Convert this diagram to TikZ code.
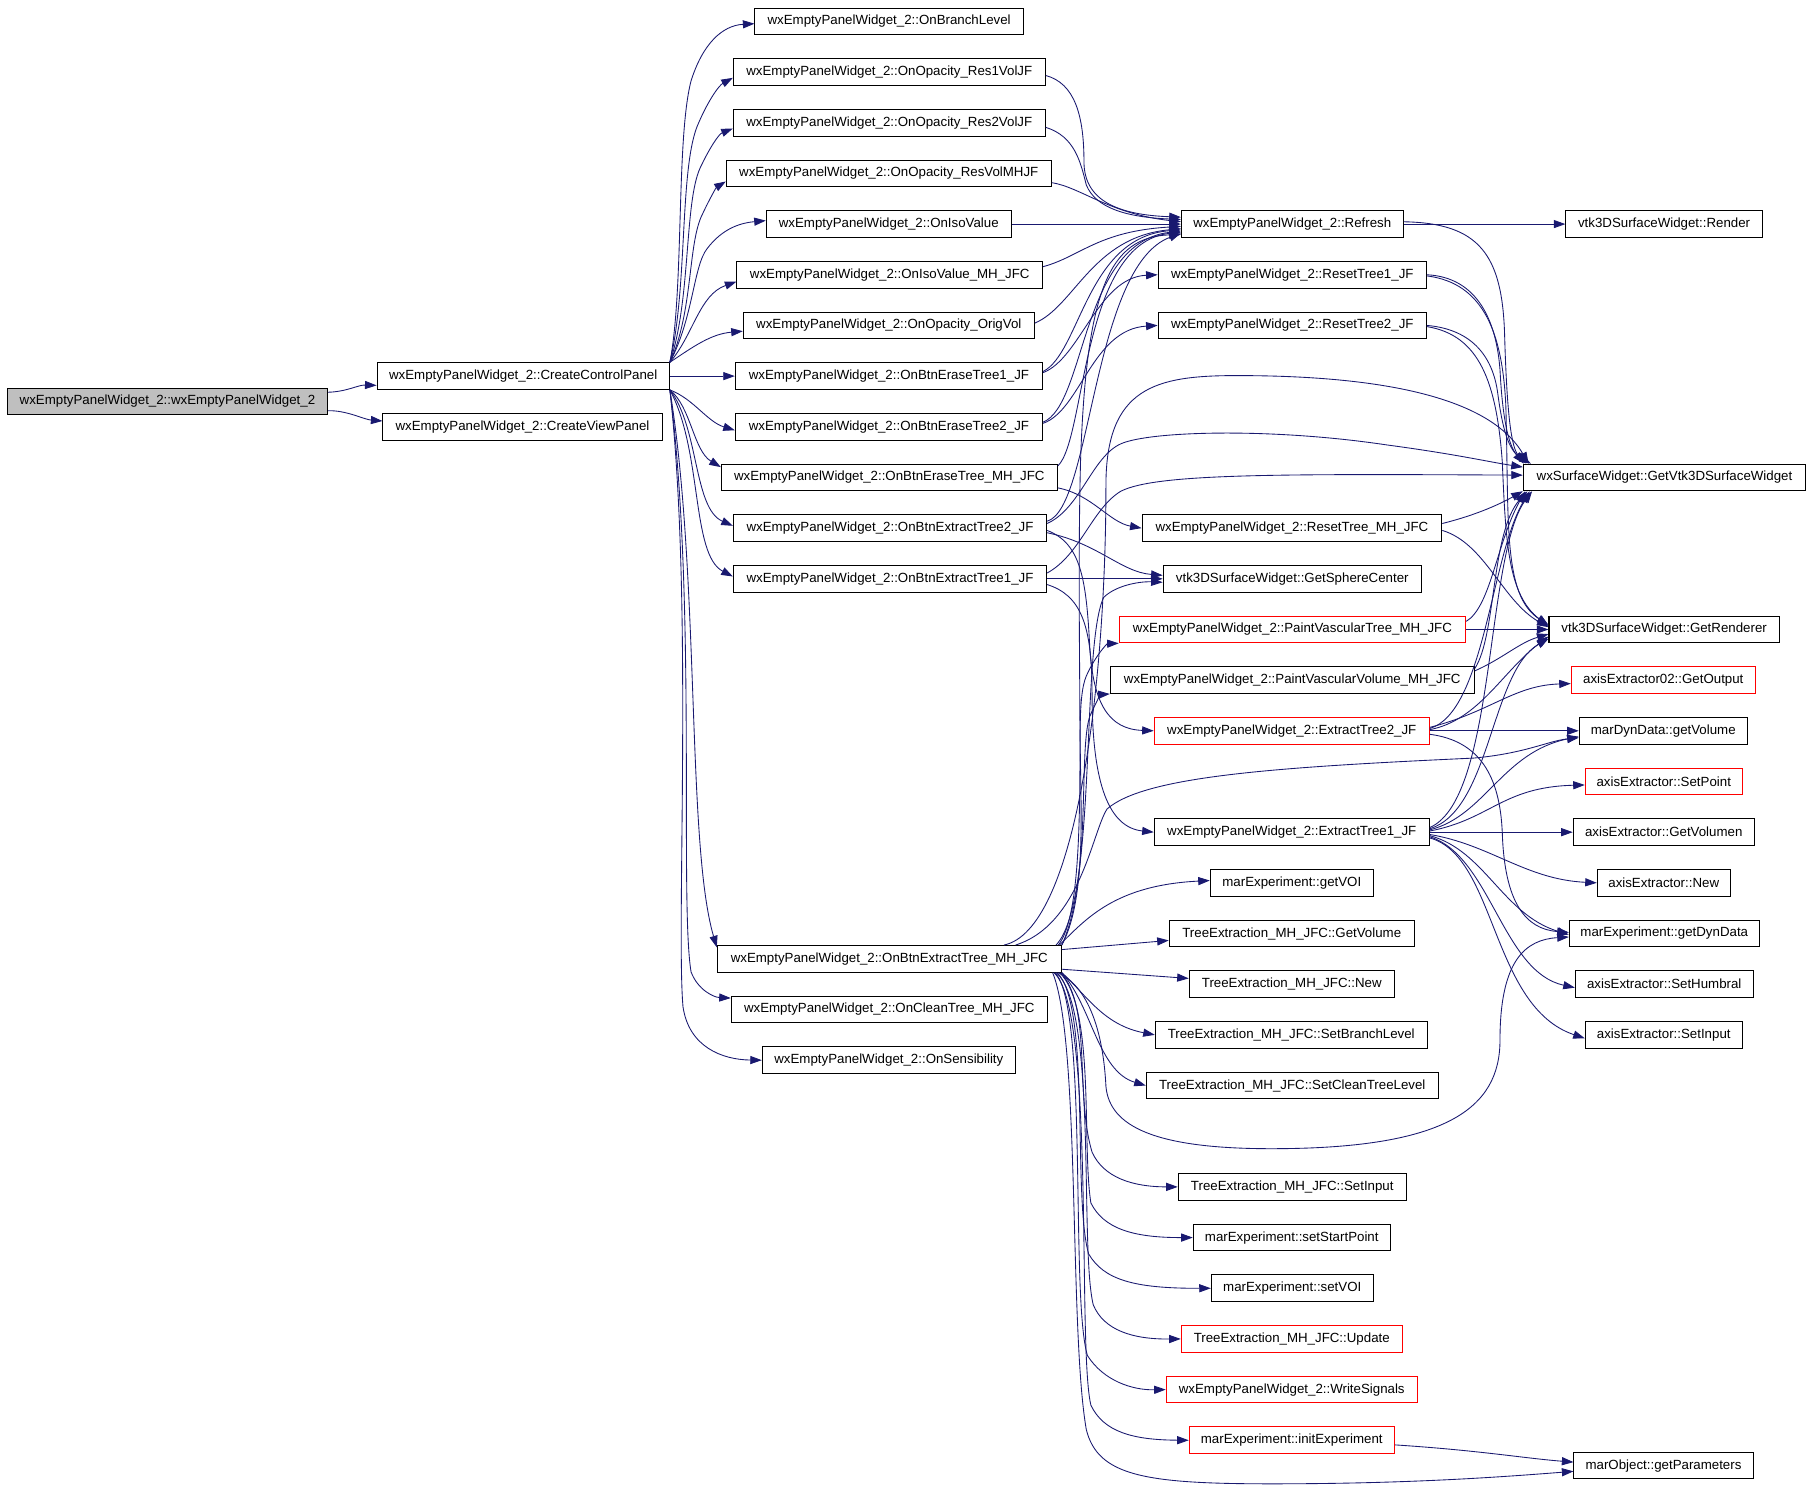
\documentclass[tikz,border=0pt]{standalone}
\usepackage{fontspec}
\setmainfont{Liberation Sans}
\usetikzlibrary{arrows.meta,calc}
\definecolor{edgeblue}{HTML}{191970}
\definecolor{nodered}{HTML}{FF0000}
\definecolor{rootgray}{HTML}{BFBFBF}
\begin{document}
\begin{tikzpicture}[x=1pt,y=-1pt,
  nodebox/.style={draw=black, line width=0.9pt, inner sep=0pt, minimum height=23pt, fill=white,
    font=\fontsize{11.5}{13}\selectfont},
  rednode/.style={nodebox, draw=nodered},
  rootnode/.style={nodebox, fill=rootgray},
  callarrow/.style={draw=edgeblue, line width=0.75pt, -{Triangle[length=10pt,width=7pt]}, fill=none}]
\fill[white] (0,0) rectangle (1568,1307.5);
\useasboundingbox (0,0) rectangle (1568,1307.5);

% ---- nodes ----
\node[rootnode, minimum width=277.2pt] (root) at (144.9,347.4) {wxEmptyPanelWidget\_2::wxEmptyPanelWidget\_2};
\node[nodebox, minimum width=252.9pt] (ccp) at (452.75,325.45) {wxEmptyPanelWidget\_2::CreateControlPanel};
\node[nodebox, minimum width=241.5pt] (cvp) at (452.15,369.3) {wxEmptyPanelWidget\_2::CreateViewPanel};

\node[nodebox, minimum width=232.2pt] (branch) at (769.4,18.5) {wxEmptyPanelWidget\_2::OnBranchLevel};
\node[nodebox, minimum width=269.9pt] (res1) at (769.55,62.35) {wxEmptyPanelWidget\_2::OnOpacity\_Res1VolJF};
\node[nodebox, minimum width=269.9pt] (res2) at (769.55,106.2) {wxEmptyPanelWidget\_2::OnOpacity\_Res2VolJF};
\node[nodebox, minimum width=281.2pt] (resmh) at (769.1,150.05) {wxEmptyPanelWidget\_2::OnOpacity\_ResVolMHJF};
\node[nodebox, minimum width=212pt] (iso) at (769.1,193.9) {wxEmptyPanelWidget\_2::OnIsoValue};
\node[nodebox, minimum width=264.5pt] (isomh) at (769.95,237.75) {wxEmptyPanelWidget\_2::OnIsoValue\_MH\_JFC};
\node[nodebox, minimum width=251.8pt] (orig) at (769.1,281.6) {wxEmptyPanelWidget\_2::OnOpacity\_OrigVol};
\node[nodebox, minimum width=265.9pt] (erase1) at (769.25,325.45) {wxEmptyPanelWidget\_2::OnBtnEraseTree1\_JF};
\node[nodebox, minimum width=265.9pt] (erase2) at (769.25,369.3) {wxEmptyPanelWidget\_2::OnBtnEraseTree2\_JF};
\node[nodebox, minimum width=290.7pt] (erasemh) at (769.55,413.15) {wxEmptyPanelWidget\_2::OnBtnEraseTree\_MH\_JFC};
\node[nodebox, minimum width=271.1pt] (ext2) at (770.15,457.0) {wxEmptyPanelWidget\_2::OnBtnExtractTree2\_JF};
\node[nodebox, minimum width=271.1pt] (ext1) at (770.15,500.85) {wxEmptyPanelWidget\_2::OnBtnExtractTree1\_JF};
\node[nodebox, minimum width=297.7pt] (extmh) at (769.55,829.7) {wxEmptyPanelWidget\_2::OnBtnExtractTree\_MH\_JFC};
\node[nodebox, minimum width=273.5pt] (clean) at (769.55,873.6) {wxEmptyPanelWidget\_2::OnCleanTree\_MH\_JFC};
\node[nodebox, minimum width=218.9pt] (sens) at (769.15,917.4) {wxEmptyPanelWidget\_2::OnSensibility};

\node[nodebox, minimum width=191.9pt] (refresh) at (1118.25,193.9) {wxEmptyPanelWidget\_2::Refresh};
\node[nodebox, minimum width=232.1pt] (reset1) at (1118.25,237.75) {wxEmptyPanelWidget\_2::ResetTree1\_JF};
\node[nodebox, minimum width=232.1pt] (reset2) at (1118.25,281.6) {wxEmptyPanelWidget\_2::ResetTree2\_JF};
\node[nodebox, minimum width=259.3pt] (resetmh) at (1117.95,457.0) {wxEmptyPanelWidget\_2::ResetTree\_MH\_JFC};
\node[nodebox, minimum width=223.4pt] (sphere) at (1118.25,500.85) {vtk3DSurfaceWidget::GetSphereCenter};
\node[rednode, minimum width=299.8pt] (pvt) at (1118.4,544.7) {wxEmptyPanelWidget\_2::PaintVascularTree\_MH\_JFC};
\node[nodebox, minimum width=314.9pt] (pvv) at (1118.25,588.55) {wxEmptyPanelWidget\_2::PaintVascularVolume\_MH\_JFC};
\node[rednode, minimum width=238pt] (xt2) at (1117.8,632.4) {wxEmptyPanelWidget\_2::ExtractTree2\_JF};
\node[nodebox, minimum width=238pt] (xt1) at (1117.8,720.1) {wxEmptyPanelWidget\_2::ExtractTree1\_JF};
\node[nodebox, minimum width=141.1pt] (getvoi) at (1117.85,763.95) {marExperiment::getVOI};
\node[nodebox, minimum width=212pt] (tgetvol) at (1117.8,807.8) {TreeExtraction\_MH\_JFC::GetVolume};
\node[nodebox, minimum width=177.4pt] (tnew) at (1117.8,851.65) {TreeExtraction\_MH\_JFC::New};
\node[nodebox, minimum width=235.3pt] (tbranch) at (1117.35,895.5) {TreeExtraction\_MH\_JFC::SetBranchLevel};
\node[nodebox, minimum width=252.7pt] (tclean) at (1118.25,939.35) {TreeExtraction\_MH\_JFC::SetCleanTreeLevel};
\node[nodebox, minimum width=197.3pt] (tsetinput) at (1118.25,1027.05) {TreeExtraction\_MH\_JFC::SetInput};
\node[nodebox, minimum width=170.4pt] (startpt) at (1117.8,1070.9) {marExperiment::setStartPoint};
\node[nodebox, minimum width=140.1pt] (setvoi) at (1118.25,1114.75) {marExperiment::setVOI};
\node[rednode, minimum width=191.2pt] (update) at (1117.8,1158.6) {TreeExtraction\_MH\_JFC::Update};
\node[rednode, minimum width=217.2pt] (writesig) at (1117.8,1202.45) {wxEmptyPanelWidget\_2::WriteSignals};
\node[rednode, minimum width=177.4pt] (initexp) at (1117.8,1246.3) {marExperiment::initExperiment};

\node[nodebox, minimum width=170pt] (render) at (1440,193.9) {vtk3DSurfaceWidget::Render};
\node[nodebox, minimum width=244.3pt] (getvtk) at (1440.35,413.15) {wxSurfaceWidget::GetVtk3DSurfaceWidget};
\node[nodebox, minimum width=199.3pt] (renderer) at (1440.05,544.7) {vtk3DSurfaceWidget::GetRenderer};
\node[rednode, minimum width=159.2pt] (getoutput) at (1439.3,588.55) {axisExtractor02::GetOutput};
\node[nodebox, minimum width=145.4pt] (getvolume) at (1439.3,632.4) {marDynData::getVolume};
\node[rednode, minimum width=135.8pt] (setpoint) at (1439.7,676.25) {axisExtractor::SetPoint};
\node[nodebox, minimum width=156.6pt] (getvolumen) at (1439.7,720.1) {axisExtractor::GetVolumen};
\node[nodebox, minimum width=115pt] (axnew) at (1439.7,763.95) {axisExtractor::New};
\node[nodebox, minimum width=164.3pt] (getdyn) at (1440.15,807.8) {marExperiment::getDynData};
\node[nodebox, minimum width=153.9pt] (humbral) at (1440.15,851.65) {axisExtractor::SetHumbral};
\node[nodebox, minimum width=135.8pt] (axsetinput) at (1439.7,895.5) {axisExtractor::SetInput};
\node[nodebox, minimum width=155pt] (getparams) at (1439.5,1268.2) {marObject::getParameters};

% ---- edges ----
\begin{scope}[every path/.style={callarrow}]
% root
\draw ($(root.east)+(0,-8)$) .. controls (300,339) and (310,333) .. ($(ccp.west)+(0,8)$);
\draw ($(root.east)+(0,8)$) .. controls (300,355) and (315,363) .. ($(cvp.west)+(0,-5)$);
% CreateControlPanel fan
\draw (ccp.north east) .. controls (592,250) and (585,120) .. (598,70) .. controls (608,38) and (625,22) .. ($(branch.west)+(0,2)$);
\draw (ccp.north east) .. controls (595,250) and (588,150) .. (603,110) .. controls (612,88) and (622,74) .. ($(res1.west)+(0,5)$);
\draw (ccp.north east) .. controls (598,260) and (592,175) .. (606,145) .. controls (614,128) and (622,116) .. ($(res2.west)+(0,5)$);
\draw (ccp.north east) .. controls (600,270) and (595,210) .. (608,185) .. controls (614,172) and (620,162) .. ($(resmh.west)+(0,7)$);
\draw (ccp.north east) .. controls (600,275) and (600,230) .. (612,215) .. controls (625,198) and (640,193) .. ($(iso.west)+(0,-3)$);
\draw (ccp.north east) .. controls (600,290) and (605,255) .. ($(isomh.west)+(0,6)$);
\draw (ccp.north east) .. controls (600,300) and (615,289) .. ($(orig.west)+(0,5)$);
\draw (ccp.east) -- (erase1.west);
\draw (ccp.south east) .. controls (600,345) and (612,365) .. ($(erase2.west)+(0,3)$);
\draw (ccp.south east) .. controls (598,352) and (600,390) .. ($(erasemh.north west)+(0,3)$);
\draw (ccp.south east) .. controls (605,370) and (600,440) .. ($(ext2.west)+(0,-2)$);
\draw (ccp.south east) .. controls (608,390) and (598,480) .. ($(ext1.west)+(0,-2)$);
\draw (ccp.south east) .. controls (606,500) and (594,730) .. ($(extmh.north west)+(0,2)$);
\draw (ccp.south east) .. controls (603,520) and (588,780) .. (598,841) .. controls (604,857) and (618,863) .. ($(clean.north west)+(0,2)$);
\draw (ccp.south east) .. controls (600,520) and (585,800) .. (591,871) .. controls (596,906) and (625,917) .. (sens.west);
% column 2 -> Refresh etc.
\draw ($(res1.east)+(0,3)$) .. controls (930,72) and (938,100) .. (938,140) .. controls (938,175) and (970,186) .. ($(refresh.west)+(0,-6)$);
\draw ($(res2.east)+(0,4)$) .. controls (930,118) and (935,140) .. (940,160) .. controls (948,180) and (975,188) .. ($(refresh.west)+(0,-4)$);
\draw ($(resmh.east)+(0,8)$) .. controls (935,162) and (960,185) .. ($(refresh.west)+(0,-2)$);
\draw (iso.east) -- (refresh.west);
\draw ($(isomh.east)+(0,-7)$) .. controls (935,222) and (950,200) .. ($(refresh.west)+(0,2)$);
\draw ($(orig.east)+(0,-2)$) .. controls (930,265) and (945,205) .. ($(refresh.west)+(0,4)$);
\draw ($(erase1.east)+(0,-4)$) .. controls (935,305) and (940,205) .. ($(refresh.west)+(0,5)$);
\draw ($(erase1.east)+(0,-3)$) .. controls (935,310) and (950,240) .. (reset1.west);
\draw ($(erase2.east)+(0,-4)$) .. controls (940,350) and (935,210) .. ($(refresh.west)+(0,6)$);
\draw ($(erase2.east)+(0,-3)$) .. controls (935,355) and (945,285) .. (reset2.west);
\draw ($(erasemh.north east)+(0,2)$) .. controls (940,380) and (935,210) .. ($(refresh.west)+(0,7)$);
\draw ($(erasemh.east)+(0,9)$) .. controls (945,428) and (960,452) .. (resetmh.west);
\draw ($(ext2.east)+(0,-6)$) .. controls (945,440) and (945,230) .. ($(refresh.west)+(0,8)$);
\draw ($(ext2.east)+(0,-4)$) .. controls (935,440) and (945,395) .. (970,384) .. controls (995,373) and (1100,370) .. (1200,385) .. controls (1260,393) and (1290,400) .. ($(getvtk.west)+(0,-9)$);
\draw ($(ext2.east)+(0,4)$) .. controls (950,470) and (970,495) .. ($(sphere.west)+(0,-3)$);
\draw ($(ext2.east)+(0,2)$) .. controls (935,470) and (940,500) .. (943,560) .. controls (946,610) and (960,631) .. (xt2.west);
\draw (ext1.east) -- (sphere.west);
\draw ($(ext1.east)+(0,-5)$) .. controls (935,480) and (945,440) .. (970,425) .. controls (1000,410) and (1100,410) .. ($(getvtk.west)+(0,-2)$);
\draw ($(ext1.east)+(0,5)$) .. controls (935,515) and (945,540) .. (945,600) .. controls (945,680) and (960,716) .. (xt1.west);
% OnBtnExtractTree_MH_JFC upwards
\draw ($(extmh.north east)+(-3,0)$) .. controls (945,780) and (930,600) .. (935,400) .. controls (940,250) and (960,205) .. ($(refresh.west)+(0,9)$);
\draw ($(extmh.north east)+(-50,0)$) .. controls (930,805) and (957,600) .. (957,420) .. controls (957,335) and (1000,325) .. (1070,325) .. controls (1200,325) and (1290,345) .. ($(getvtk.north west)+(5,0)$);
\draw ($(extmh.north east)+(-5,0)$) .. controls (950,780) and (935,560) .. (955,517) .. controls (965,507) and (985,503) .. ($(sphere.west)+(0,3)$);
\draw (extmh.north east) .. controls (950,760) and (925,620) .. (940,585) .. controls (948,567) and (958,557) .. (pvt.south west);
\draw (extmh.north east) .. controls (945,760) and (933,650) .. (943,620) .. controls (948,608) and (953,601) .. (pvv.south west);
\draw ($(extmh.north east)+(-40,0)$) .. controls (935,800) and (945,720) .. (958,700) .. controls (990,672) and (1100,664) .. (1275,656) .. controls (1320,652) and (1340,641) .. ($(getvolume.west)+(0,6)$);
\draw ($(extmh.north east)+(-2,0)$) .. controls (940,795) and (965,766) .. ($(getvoi.west)+(0,-2)$);
% OnBtnExtractTree_MH_JFC right / downwards
\draw ($(extmh.east)+(0,-8)$) -- ($(tgetvol.west)+(0,6)$);
\draw ($(extmh.east)+(0,9)$) -- ($(tnew.west)+(0,-5)$);
\draw (extmh.south east) .. controls (940,861) and (955,887) .. (tbranch.west);
\draw (extmh.south east) .. controls (945,871) and (950,927) .. (tclean.west);
\draw ($(extmh.south east)+(-3,0)$) .. controls (945,856) and (955,900) .. (957,940) .. controls (960,975) and (1000,994) .. (1100,994) .. controls (1250,994) and (1298,960) .. (1298,900) .. controls (1298,831) and (1320,813) .. ($(getdyn.west)+(0,3)$);
\draw ($(extmh.south east)+(-1,0)$) .. controls (945,871) and (930,947) .. (945,997) .. controls (955,1019) and (980,1027) .. (tsetinput.west);
\draw ($(extmh.south east)+(-2,0)$) .. controls (948,871) and (936,991) .. (944,1041) .. controls (955,1063) and (980,1071) .. (startpt.west);
\draw ($(extmh.south east)+(-4,0)$) .. controls (944,871) and (928,1035) .. (942,1085) .. controls (955,1107) and (980,1115) .. (setvoi.west);
\draw ($(extmh.south east)+(-5,0)$) .. controls (950,871) and (934,1079) .. (946,1129) .. controls (955,1151) and (980,1159) .. (update.west);
\draw ($(extmh.south east)+(-6,0)$) .. controls (942,871) and (926,1123) .. (941,1173) .. controls (955,1195) and (980,1203) .. (writesig.west);
\draw ($(extmh.south east)+(-7,0)$) .. controls (948,871) and (932,1166) .. (944,1216) .. controls (955,1239) and (980,1246) .. (initexp.west);
\draw ($(extmh.south east)+(-8,0)$) .. controls (935,900) and (925,1150) .. (940,1237) .. controls (950,1277) and (990,1284) .. (1100,1284) .. controls (1220,1284) and (1300,1278) .. ($(getparams.west)+(0,5)$);
\draw ($(initexp.east)+(0,4)$) .. controls (1280,1255) and (1320,1262) .. ($(getparams.west)+(0,-3)$);
% column 3 -> column 4
\draw (refresh.east) -- (render.west);
\draw ($(refresh.east)+(0,-2)$) .. controls (1280,193) and (1300,220) .. (1302,290) .. controls (1304,360) and (1308,388) .. ($(getvtk.north west)+(3,0)$);
\draw (reset1.east) .. controls (1280,240) and (1295,280) .. (1298,320) .. controls (1300,360) and (1305,385) .. ($(getvtk.north west)+(1,0)$);
\draw ($(reset1.east)+(0,1)$) .. controls (1285,245) and (1300,290) .. (1303,350) .. controls (1306,450) and (1300,515) .. ($(renderer.west)+(0,-4)$);
\draw (reset2.east) .. controls (1275,285) and (1292,310) .. (1296,340) .. controls (1300,370) and (1305,390) .. ($(getvtk.north west)+(7,0)$);
\draw ($(reset2.east)+(0,1)$) .. controls (1280,290) and (1295,330) .. (1300,400) .. controls (1303,470) and (1305,515) .. ($(renderer.west)+(0,-3)$);
\draw ($(resetmh.east)+(0,-4)$) .. controls (1280,445) and (1300,435) .. (getvtk.south west);
\draw ($(resetmh.east)+(0,2)$) .. controls (1285,470) and (1300,520) .. ($(renderer.west)+(0,-2)$);
\draw (pvt.east) -- (renderer.west);
\draw ($(pvt.east)+(0,-7)$) .. controls (1290,525) and (1295,470) .. ($(getvtk.south west)+(2,0)$);
\draw ($(pvv.east)+(0,-8)$) .. controls (1300,570) and (1315,556) .. ($(renderer.west)+(0,4)$);
\draw ($(pvv.east)+(0,-10)$) .. controls (1295,550) and (1290,460) .. ($(getvtk.south west)+(4,0)$);
\draw ($(xt2.east)+(0,-3)$) .. controls (1290,616) and (1310,593) .. ($(getoutput.west)+(0,3)$);
\draw (xt2.east) -- (getvolume.west);
\draw ($(xt2.east)+(0,3)$) .. controls (1280,641) and (1298,671) .. (1300,721) .. controls (1302,781) and (1320,804) .. ($(getdyn.west)+(0,-1)$);
\draw ($(xt2.east)+(0,-1)$) .. controls (1280,623) and (1300,581) .. ($(renderer.west)+(0,6)$);
\draw ($(xt2.east)+(0,-2)$) .. controls (1285,616) and (1290,480) .. ($(getvtk.south west)+(6,0)$);
\draw ($(xt1.east)+(0,-2)$) .. controls (1285,706) and (1300,651) .. ($(getvolume.west)+(0,5)$);
\draw ($(xt1.east)+(0,-1)$) .. controls (1290,709) and (1300,681) .. ($(setpoint.west)+(0,3)$);
\draw (xt1.east) -- (getvolumen.west);
\draw ($(xt1.east)+(0,2)$) .. controls (1290,731) and (1320,761) .. (axnew.west);
\draw ($(xt1.east)+(0,3)$) .. controls (1285,736) and (1300,791) .. ($(getdyn.west)+(0,1)$);
\draw ($(xt1.east)+(0,4)$) .. controls (1290,741) and (1300,841) .. ($(humbral.west)+(0,3)$);
\draw ($(xt1.east)+(0,5)$) .. controls (1295,741) and (1290,871) .. ($(axsetinput.west)+(0,3)$);
\draw ($(xt1.east)+(0,-3)$) .. controls (1290,701) and (1290,581) .. ($(renderer.west)+(0,8)$);
\draw ($(xt1.east)+(0,-4)$) .. controls (1295,691) and (1285,480) .. ($(getvtk.south west)+(8,0)$);
\end{scope}
\end{tikzpicture}
\end{document}
